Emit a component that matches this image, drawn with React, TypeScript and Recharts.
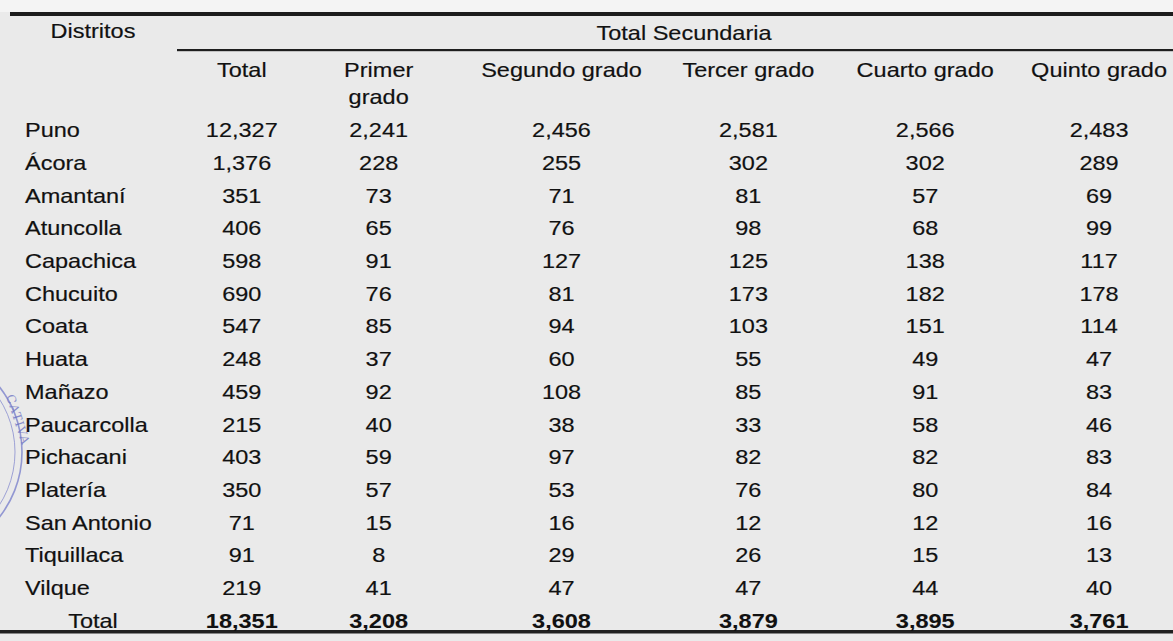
import React from 'react';
import { ScatterChart, Scatter, XAxis, YAxis, Customized } from 'recharts';

// ---------- data ----------
const districts = [
  'Puno', 'Ácora', 'Amantaní', 'Atuncolla', 'Capachica', 'Chucuito', 'Coata', 'Huata',
  'Mañazo', 'Paucarcolla', 'Pichacani', 'Platería', 'San Antonio', 'Tiquillaca', 'Vilque', 'Total',
];
const totalValues = [12327, 1376, 351, 406, 598, 690, 547, 248, 459, 215, 403, 350, 71, 91, 219, 18351];
const primerGrado = [2241, 228, 73, 65, 91, 76, 85, 37, 92, 40, 59, 57, 15, 8, 41, 3208];
const segundoGrado = [2456, 255, 71, 76, 127, 81, 94, 60, 108, 38, 97, 53, 16, 29, 47, 3608];
const tercerGrado = [2581, 302, 81, 98, 125, 173, 103, 55, 85, 33, 82, 76, 12, 26, 47, 3879];
const cuartoGrado = [2566, 302, 57, 68, 138, 182, 151, 49, 91, 58, 82, 80, 12, 15, 44, 3895];
const quintoGrado = [2483, 289, 69, 99, 117, 178, 114, 47, 83, 46, 83, 84, 16, 13, 40, 3761];
const columnLabels = [['Total'], ['Primer', 'grado'], ['Segundo grado'], ['Tercer grado'], ['Cuarto grado'], ['Quinto grado']];
const headerDistritos = 'Distritos';
const headerGroup = 'Total Secundaria';
const totalRowLabel = 'Total';

// ---------- layout / style ----------
const W = 1173;
const H = 641;
const COL_CENTERS = [241, 378, 561, 748, 925, 1099]; // table column centres (layout)
const FONT = '"Liberation Sans", Arial, Helvetica, sans-serif';
const SX = 1.12;
const INK = '#111111';
const FS = 21;

const series = [totalValues, primerGrado, segundoGrado, tercerGrado, cuartoGrado, quintoGrado];
const tables = series.map((vals, j) =>
  districts.map((d, i) => ({ district: d, x: COL_CENTERS[j], v: vals[i], bold: d === totalRowLabel }))
);

const fmt = (n: number) => n.toLocaleString('en-US');

function T({ x, y, children, anchor = 'middle', weight = 400, size = FS }: any) {
  return (
    <g transform={`translate(${x},${y}) scale(${SX},1)`}>
      <text
        x={0}
        y={0}
        textAnchor={anchor}
        fontFamily={FONT}
        fontSize={size}
        fontWeight={weight}
        fill={INK}
        stroke={INK}
        strokeWidth={weight > 400 ? 0.1 : 0.18}
      >
        {children}
      </text>
    </g>
  );
}

const CellShape = (props: any) => {
  const { cx, cy, payload } = props;
  if (cx == null || cy == null) return null;
  return (
    <T x={cx} y={cy + 7.5} weight={payload.bold ? 700 : 400}>
      {fmt(payload.v)}
    </T>
  );
};

const RowTick = (props: any) => {
  const { y, payload } = props;
  const isTotal = payload.value === totalRowLabel;
  return isTotal ? (
    <T x={93} y={y + 7.5}>{payload.value}</T>
  ) : (
    <T x={25} y={y + 7.5} anchor="start">{payload.value}</T>
  );
};

const HeaderTick = (props: any) => {
  const { x, index } = props;
  const lines = columnLabels[index] || [];
  return (
    <g>
      {lines.map((l, k) => (
        <T key={k} x={x} y={77 + k * 27}>{l}</T>
      ))}
    </g>
  );
};

const Decor = () => (
  <g>
    <rect x={10} y={12} width={W - 10} height={4} fill="#1c1c1c" />
    <rect x={177} y={49} width={W - 177} height={2.2} fill="#1e1e1e" />
    <rect x={0} y={630} width={W} height={3.5} fill="#202020" />
    <T x={93} y={38}>{headerDistritos}</T>
    <T x={684} y={39.5}>{headerGroup}</T>
    <circle cx={-83} cy={452} r={105} fill="none" stroke="#7c82cc" strokeWidth={1.6} opacity={0.8} />
    <circle cx={-83} cy={452} r={98} fill="none" stroke="#7c82cc" strokeWidth={1} opacity={0.7} />
    <text
      x={0}
      y={0}
      transform="translate(6,396) rotate(72)"
      fontFamily="'DejaVu Serif', serif"
      fontSize={12}
      fill="#6f75c4"
      opacity={0.8}
      letterSpacing={1}
    >
      CATIVA
    </text>
  </g>
);

export default function App() {
  return (
    <div style={{ position: 'absolute', left: 0, top: 0, width: W, height: H, background: '#eaeaea', overflow: 'hidden' }}>
      <div style={{ position: 'absolute', left: 0, top: 0, width: W, height: 12, background: '#f4f4f4' }} />
      <div style={{ position: 'absolute', left: 0, top: 0 }}>
        <ScatterChart width={W} height={H} margin={{ top: 112.65, right: 0, bottom: 4.65, left: 0 }}>
          <XAxis
            type="number"
            dataKey="x"
            domain={[0, W]}
            ticks={COL_CENTERS}
            interval={0}
            orientation="top"
            height={1}
            axisLine={false}
            tickLine={false}
            tick={HeaderTick}
            allowDataOverflow
          />
          <YAxis
            type="category"
            dataKey="district"
            reversed
            width={1}
            axisLine={false}
            tickLine={false}
            interval={0}
            tick={RowTick}
            allowDuplicatedCategory={false}
          />
          <Customized component={Decor} />
          {tables.map((t, j) => (
            <Scatter key={j} data={t} shape={CellShape} isAnimationActive={false} />
          ))}
        </ScatterChart>
      </div>
    </div>
  );
}
